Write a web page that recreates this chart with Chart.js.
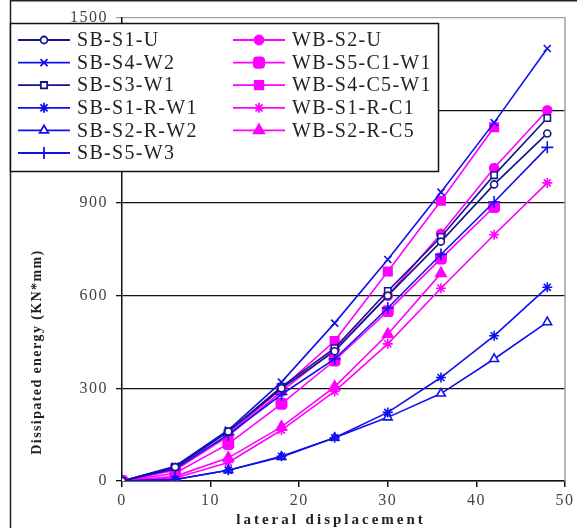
<!DOCTYPE html>
<html>
<head>
<meta charset="utf-8">
<script src="https://cdn.jsdelivr.net/npm/chart.js@4.4.1/dist/chart.umd.min.js"></script>
<style>
  html, body { margin: 0; padding: 0; background: #fff; }
  #wrap { width: 577px; height: 528px; }
</style>
</head>
<body>
<div id="wrap"><canvas id="canvas" width="577" height="528"></canvas></div>
<script>
// lateral displacement steps
const xValues = [0, 6, 12, 18, 24, 30, 36, 42, 48];
const yTicks = [0, 300, 600, 900, 1200, 1500];
const xTicks = [0, 10, 20, 30, 40, 50];

// dissipated energy (KN*mm)
const sbS1U = [0, 45, 160, 300, 420, 600, 775, 960, 1125];
const sbS4W2 = [0, 48, 165, 320, 511, 717, 935, 1160, 1400];
const sbS3W1 = [0, 45, 160, 305, 430, 615, 790, 990, 1175];
const sbS1RW1 = [0, 5, 35, 80, 140, 222, 335, 470, 627];
const sbS2RW2 = [0, 5, 35, 78, 140, 206, 283, 395, 514];
const sbS5W3 = [0, 40, 150, 280, 395, 560, 733, 903, 1080];
const wbS2U = [0, 35, 145, 290, 425, 600, 800, 1013, 1200];
const wbS5C1W1 = [0, 25, 120, 250, 390, 550, 720, 887];
const wbS4C5W1 = [0, 40, 150, 300, 453, 678, 907, 1145];
const wbS1RC1 = [0, 10, 60, 165, 290, 444, 624, 797, 965];
const wbS2RC5 = [0, 15, 75, 175, 305, 475, 672];

const navy = '#14148f';
const blue = '#1010ee';
const pink = '#ff00ff';
const serif = '"Liberation Serif", "DejaVu Serif", serif';

function pts(arr) {
    return arr.map((v, i) => ({ x: xValues[i], y: v }));
}

function series(label, data, color, style, hollow, radius) {
    return {
        label: label,
        data: pts(data),
        borderColor: color,
        backgroundColor: color,
        borderWidth: 1.6,
        pointStyle: style,
        pointRadius: radius,
        pointBorderWidth: 1.6,
        pointBorderColor: color,
        pointBackgroundColor: hollow ? '#fff' : color,
        tension: 0,
    };
}

const datasets = [
    series('SB-S1-U', sbS1U, navy, 'circle', true, 3.5),
    series('SB-S4-W2', sbS4W2, blue, 'crossRot', false, 5),
    series('SB-S3-W1', sbS3W1, navy, 'rect', true, 4.5),
    series('SB-S1-R-W1', sbS1RW1, blue, 'star', false, 5),
    series('SB-S2-R-W2', sbS2RW2, blue, 'triangle', true, 5),
    series('SB-S5-W3', sbS5W3, blue, 'cross', false, 6),
    series('WB-S2-U', wbS2U, pink, 'circle', false, 4.5),
    series('WB-S5-C1-W1', wbS5C1W1, pink, 'rectRounded', false, 6),
    series('WB-S4-C5-W1', wbS4C5W1, pink, 'rect', false, 6),
    series('WB-S1-R-C1', wbS1RC1, pink, 'star', false, 5),
    series('WB-S2-R-C5', wbS2RC5, pink, 'triangle', false, 6),
];

const frame = {
    id: 'frame',
    beforeDraw(chart) {
        chart.ctx.letterSpacing = '1.5px';
    },
    afterDraw(chart) {
        const ctx = chart.ctx;
        const area = chart.chartArea;
        ctx.save();
        ctx.letterSpacing = '0px';
        // plot border right side
        ctx.strokeStyle = '#a0a0a0';
        ctx.lineWidth = 1.5;
        ctx.beginPath();
        ctx.moveTo(area.right, area.top);
        ctx.lineTo(area.right, area.bottom);
        ctx.stroke();
        // outer frame
        ctx.strokeStyle = '#222';
        ctx.lineWidth = 1.5;
        ctx.beginPath();
        ctx.moveTo(10.5, 528);
        ctx.lineTo(10.5, 0.75);
        ctx.lineTo(577, 0.75);
        ctx.stroke();

        // legend box
        ctx.fillStyle = '#fff';
        ctx.fillRect(10, 23, 428, 148);
        ctx.strokeStyle = '#111';
        ctx.lineWidth = 1.5;
        ctx.strokeRect(10.5, 23.5, 428, 148);
        ctx.font = '20px ' + serif;
        ctx.textBaseline = 'middle';
        ctx.letterSpacing = '1.3px';
        chart.data.datasets.forEach((ds, i) => {
            const col = i < 6 ? 0 : 1;
            const row = i < 6 ? i : i - 6;
            const x0 = col ? 233 : 18;
            const y = 40 + row * 22.6;
            ctx.strokeStyle = ds.borderColor;
            ctx.lineWidth = 1.8;
            ctx.beginPath();
            ctx.moveTo(x0, y);
            ctx.lineTo(x0 + 52, y);
            ctx.stroke();
            ctx.fillStyle = ds.pointBackgroundColor;
            ctx.strokeStyle = ds.borderColor;
            ctx.lineWidth = 1.8;
            Chart.helpers.drawPoint(ctx, {
                pointStyle: ds.pointStyle,
                radius: ds.pointRadius,
                borderWidth: 1.8,
                rotation: 0,
            }, x0 + 26, y);
            ctx.fillStyle = '#222';
            ctx.fillText(ds.label, x0 + 59, y + 1);
        });

        // axis titles
        ctx.fillStyle = '#222';
        ctx.font = 'bold 15px ' + serif;
        ctx.letterSpacing = '3px';
        ctx.textAlign = 'center';
        ctx.fillText('lateral displacement', 331, 520);
        ctx.translate(37, 352);
        ctx.rotate(-Math.PI / 2);
        ctx.font = 'bold 14px ' + serif;
        ctx.letterSpacing = '1.4px';
        ctx.fillText('Dissipated energy (KN*mm)', 0, 0);
        ctx.restore();
    },
};

new Chart('canvas', {
    type: 'line',
    data: { datasets: datasets },
    options: {
        responsive: false,
        animation: false,
        layout: { padding: { left: 0, top: 14, right: 12, bottom: 0 } },
        plugins: {
            legend: { display: false },
            tooltip: { enabled: false },
        },
        scales: {
            x: {
                type: 'linear',
                min: 0,
                max: 50,
                afterFit: (scale) => { scale.height = 47; },
                afterBuildTicks: (scale) => { scale.ticks = xTicks.map((v) => ({ value: v })); },
                border: { display: true, color: '#111', width: 1.5 },
                grid: { drawOnChartArea: false, drawTicks: true, tickLength: 6, color: '#111', lineWidth: 1.5 },
                ticks: { color: '#444', padding: 4, font: { family: serif, size: 16 }, maxRotation: 0, callback: (v) => String(v) },
            },
            y: {
                type: 'linear',
                min: 0,
                max: 1500,
                afterFit: (scale) => { scale.width = 122; },
                afterBuildTicks: (scale) => { scale.ticks = yTicks.map((v) => ({ value: v })); },
                border: { display: true, color: '#111', width: 1.5 },
                grid: {
                    drawTicks: true,
                    tickLength: 6,
                    color: (c) => (c.tick && c.tick.value === 1500 ? '#a0a0a0' : '#111'),
                    lineWidth: 1.3,
                },
                ticks: { color: '#444', padding: 8, font: { family: serif, size: 16 }, callback: (v) => String(v) },
            },
        },
    },
    plugins: [frame],
});
</script>
</body>
</html>
